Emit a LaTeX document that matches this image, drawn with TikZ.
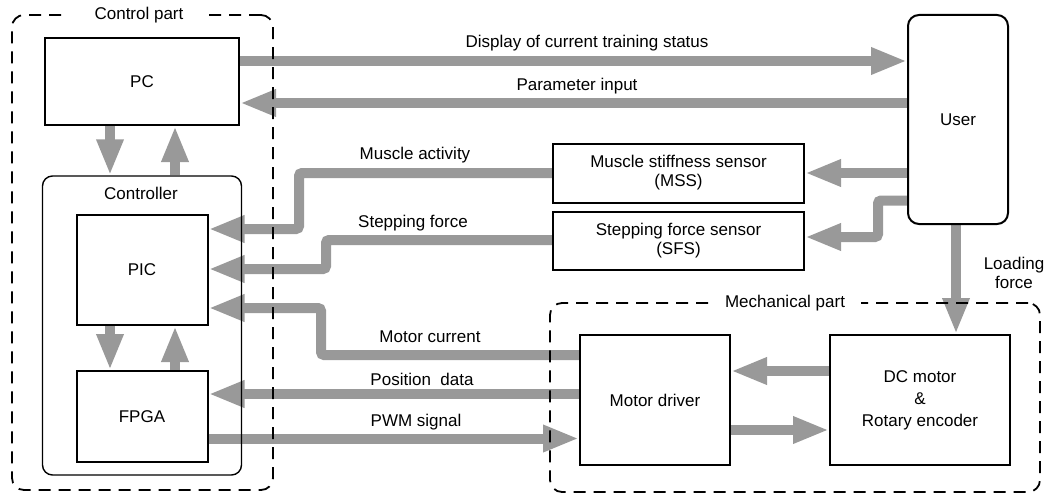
\documentclass[tikz,border=0pt]{standalone}
\usepackage{fontspec}
\setmainfont{Liberation Sans}
\usetikzlibrary{arrows.meta,backgrounds}
\definecolor{flechagris}{RGB}{153,153,153}

\begin{document}
\begin{tikzpicture}[x=1pt,y=-1pt,
  every node/.style={font=\fontsize{17}{19}\selectfont},
  bloque/.style={draw,line width=2pt,inner sep=2pt},
  redondo/.style={draw,line width=1.4pt,rounded corners=11pt},
  zona/.style={draw,line width=1.8pt,dash pattern=on 12pt off 8pt,rounded corners=12pt},
  titulo/.style={fill=white,inner ysep=1pt},
  flecha/.style={draw=flechagris,line width=10pt,-{Triangle[length=36pt,width=25pt]},rounded corners=3pt},
  ]
\useasboundingbox (0,0) rectangle (1046,495);

%Zonas
\node[zona,minimum width=261pt,minimum height=475pt] (parteControl) at (142.5,252.5) {};
\node[titulo,inner xsep=26pt] (tControl) at (139,15) {Control part};
\node[zona,minimum width=490pt,minimum height=189pt] (parteMecanica) at (795,397.5) {};
\node[titulo,inner xsep=16pt] (tMecanica) at (785,303) {Mechanical part};

%Bloques
\node[redondo,rounded corners=10pt,minimum width=199pt,minimum height=299pt] (controlador) at (142,325.5) {};
\node (tControlador) at (141,193) {Controller};
\node[bloque,minimum width=194pt,minimum height=87pt] (pc) at (142,81.5) {PC};
\node[bloque,minimum width=131pt,minimum height=110pt] (pic) at (142,270) {PIC};
\node[bloque,minimum width=131pt,minimum height=91pt] (fpga) at (142,416.5) {FPGA};
\node[redondo,line width=2pt,minimum width=100pt,minimum height=209pt] (usuario) at (958,119.5) {User};
\node[bloque,align=center,minimum width=251pt,minimum height=59pt] (mss) at (678.5,173) {Muscle stiffness sensor\\(MSS)};
\node[bloque,align=center,minimum width=251pt,minimum height=58pt] (sfs) at (678.5,241) {Stepping force sensor\\(SFS)};
\node[bloque,minimum width=150pt,minimum height=130pt] (driver) at (655,400) {Motor driver};
\node[bloque,align=center,minimum width=180pt,minimum height=130pt,font=\fontsize{17}{22}\selectfont] (motor) at (920,400) {DC motor\\\&\\Rotary encoder};

%Flechas
\begin{pgfonlayer}{background}
\foreach \a/\b in {pc/controlador,pic/fpga}{
    \draw[flecha] ([xshift=-32pt]\a.south) -- ([xshift=-32pt]\b.north);
    \draw[flecha] ([xshift=33pt]\b.north) -- ([xshift=33pt]\a.south);
}
\draw[flecha] ([yshift=20.5pt]pc.east) -- ([yshift=58.5pt]usuario.west);
\draw[flecha] ([yshift=16.5pt]usuario.west) -- ([yshift=-21.5pt]pc.east);
\draw[flecha] ([yshift=-53.5pt]usuario.west) -- (mss.east);
\draw[flecha] ([yshift=-81pt]usuario.west) -- ++(-29,0) |- ([yshift=4pt]sfs.east);
\draw[flecha] (mss.west) -- ++(-253,0) |- ([yshift=41pt]pic.east);
\draw[flecha] ([yshift=1pt]sfs.west) -- ++(-226,0) |- ([yshift=1pt]pic.east);
\draw[flecha] ([yshift=45pt]driver.west) -- ++(-258,0) |- ([yshift=-38pt]pic.east);
\draw[flecha] ([yshift=6pt]driver.west) -- ([yshift=22.5pt]fpga.east);
\draw[flecha] ([yshift=-22pt]fpga.east) -- ([yshift=-38.5pt]driver.west);
\draw[flecha] ([yshift=29pt]motor.west) -- ([yshift=29pt]driver.east);
\draw[flecha] ([yshift=-30pt]driver.east) -- ([yshift=-30pt]motor.west);
\draw[flecha] ([xshift=-2pt]usuario.south) -- ([xshift=36pt]motor.north);
\end{pgfonlayer}

%Etiquetas
\node (lDisplay) at (587,43) {Display of current training status};
\node (lParam) at (577,86) {Parameter input};
\node (lMuscle) at (415,155) {Muscle activity};
\node (lStep) at (413,223) {Stepping force};
\node (lCurrent) at (430,337) {Motor current};
\node (lPos) at (422,379) {Position\ \ data};
\node (lPwm) at (416,422) {PWM signal};
\node[align=center] (lLoad) at (1014,273) {Loading\\force};
\end{tikzpicture}
\end{document}
